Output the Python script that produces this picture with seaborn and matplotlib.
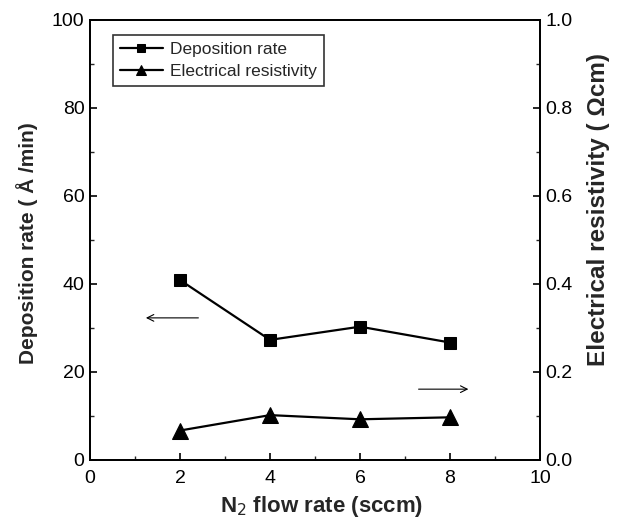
import matplotlib
matplotlib.use("Agg")
import matplotlib.pyplot as plt
import seaborn as sns
import pandas as pd
from matplotlib.ticker import MultipleLocator

flow = [2, 4, 6, 8]
dep_rate = [40.9, 27.3, 30.3, 26.7]
resistivity = [0.067, 0.102, 0.0925, 0.097]

sns.set_theme(style="ticks")
plt.rcParams['font.family'] = ['Liberation Sans', 'DejaVu Sans']

df = pd.DataFrame({"flow": flow, "dep": dep_rate, "res": resistivity})

fig = plt.figure(figsize=(6.22, 5.21), dpi=100)
ax = fig.add_axes([90/622, 1 - 460/521, 450/622, 440/521])
ax2 = ax.twinx()

sns.lineplot(data=df, x="flow", y="dep", ax=ax, color="black", marker="s",
             markersize=9, linewidth=1.6, markeredgecolor="black", label="Deposition rate", legend=False)
sns.lineplot(data=df, x="flow", y="res", ax=ax2, color="black", marker="^",
             markersize=11, linewidth=1.6, markeredgecolor="black", label="Electrical resistivity", legend=False)

ax.set_xlim(0, 10)
ax.set_ylim(0, 100)
ax2.set_ylim(0, 1.0)
ax.xaxis.set_major_locator(MultipleLocator(2))
ax.xaxis.set_minor_locator(MultipleLocator(1))
ax.yaxis.set_major_locator(MultipleLocator(20))
ax.yaxis.set_minor_locator(MultipleLocator(10))
ax2.yaxis.set_major_locator(MultipleLocator(0.2))
ax2.yaxis.set_minor_locator(MultipleLocator(0.1))
ax2.yaxis.set_major_formatter(matplotlib.ticker.FormatStrFormatter('%.1f'))

for a in (ax, ax2):
    a.tick_params(which="major", direction="in", length=5, width=1.2, labelsize=14, colors="black", pad=4)
    a.tick_params(which="minor", direction="in", length=3, width=1.0)
    for s in a.spines.values():
        s.set_linewidth(1.3)
        s.set_color("black")
ax.tick_params(axis="x", which="both", top=False, pad=7)

ax.set_xlabel("N$_2$ flow rate (sccm)", fontsize=16, fontweight="bold")
ax.set_ylabel("Deposition rate ( Å /min)", fontsize=15, fontweight="bold")
ax2.set_ylabel("Electrical resistivity ( Ωcm)", fontsize=17.5, fontweight="bold")
ax.xaxis.set_label_coords(0.515, -0.078)
ax.yaxis.set_label_coords(-0.115, 0.493)
ax2.yaxis.set_label_coords(1.105, 0.57)

# direction arrows
ax.annotate("", xy=(1.18, 32.3), xytext=(2.47, 32.3),
            arrowprops=dict(arrowstyle="->", color="black", lw=0.8))
ax.annotate("", xy=(8.47, 16.1), xytext=(7.24, 16.1),
            arrowprops=dict(arrowstyle="->", color="black", lw=0.8))

h1, l1 = ax.get_legend_handles_labels()
h2, l2 = ax2.get_legend_handles_labels()
leg = ax.legend(h1 + h2, l1 + l2, loc="upper left", bbox_to_anchor=(0.031, 0.985),
                fontsize=12.5, frameon=True, fancybox=False, edgecolor="black",
                handlelength=2.5, borderpad=0.4, labelspacing=0.4, markerscale=0.6,
                handletextpad=0.4)
leg.get_frame().set_linewidth(1.2)

fig.savefig("out.png", dpi=100)
